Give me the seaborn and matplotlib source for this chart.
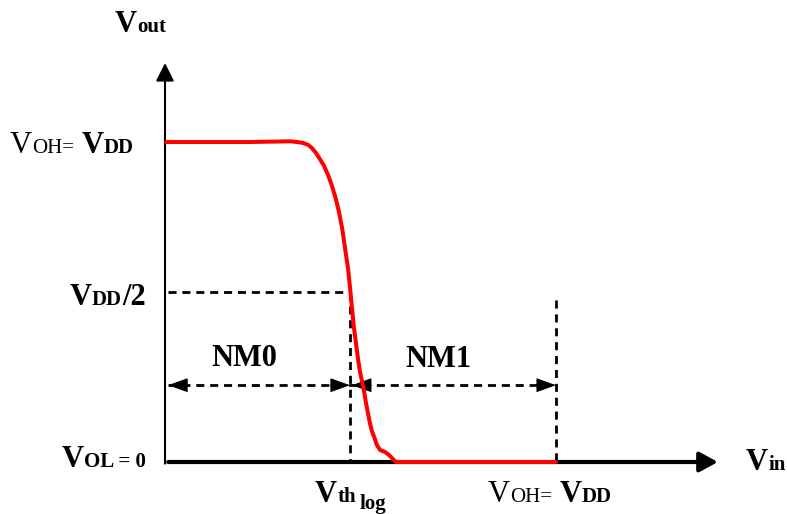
import matplotlib
matplotlib.use("Agg")
import matplotlib.pyplot as plt
import matplotlib.transforms as mtransforms
import seaborn as sns

# inverter transfer curve, both axes in units of VDD
vin = [0.003, 0.217, 0.294, 0.320, 0.338, 0.353, 0.366, 0.376, 0.386, 0.396,
       0.407, 0.417, 0.427, 0.437, 0.445, 0.453, 0.460, 0.468, 0.473, 0.478,
       0.483, 0.489, 0.494, 0.499, 0.504, 0.509, 0.514, 0.519, 0.524, 0.529,
       0.535, 0.542, 0.550, 0.563, 0.573, 0.583, 0.591, 0.75, 1.0]
vout = [1.0, 1.0, 1.0016, 1.0022, 1.0, 0.997, 0.991, 0.981, 0.966, 0.947,
        0.925, 0.897, 0.863, 0.822, 0.781, 0.731, 0.672, 0.606, 0.547, 0.484,
        0.422, 0.366, 0.319, 0.280, 0.252, 0.222, 0.185, 0.153, 0.122, 0.097,
        0.078, 0.053, 0.0375, 0.031, 0.022, 0.009, 0.0, 0.0, 0.0]

v_half = 0.53         # VDD/2 marker
v_th = 0.473          # logic threshold Vth_log
v_dd = 1.0
nm_level = 0.24       # height of the NM0 / NM1 arrows
vdd_mark_top = 0.505  # top of the dashed VDD marker on the Vin axis
axis_x_end = 1.414
axis_y_end = 1.247

W, H = 787, 514
sns.set_theme(style="white")
plt.rcParams["font.family"] = ["Liberation Serif", "DejaVu Serif"]

fig = plt.figure(figsize=(W / 100, H / 100), dpi=100)
ax = fig.add_axes([0, 0, 1, 1])
# origin of the plot sits at pixel (165, 462), VDD spans 391 px in x and 320 px in y
ax.set_xlim(-165 / 391, (W - 165) / 391)
ax.set_ylim(-(H - 462) / 320, 462 / 320)
ax.set_axis_off()

# axes with arrow heads
ax.annotate("", xy=(0, axis_y_end), xytext=(0, -0.005),
            arrowprops=dict(arrowstyle="-|>,head_length=1.1,head_width=0.55",
                            mutation_scale=10, lw=1.5, color="black",
                            shrinkA=0, shrinkB=0))
ax.annotate("", xy=(axis_x_end, 0), xytext=(0.008, 0),
            arrowprops=dict(arrowstyle="-|>,head_length=1.1,head_width=0.6",
                            mutation_scale=10, lw=3, color="black",
                            shrinkA=0, shrinkB=0))

dash = (0, (2.9, 2.1))
dash_lw = 2.0
ax.plot([0.008, v_th], [v_half, v_half], ls=dash, lw=dash_lw, color="black")
ax.plot([v_th, v_th], [v_half, 0], ls=dash, lw=dash_lw, color="black")
ax.plot([v_dd, v_dd], [vdd_mark_top, 0], ls=dash, lw=dash_lw, color="black")

# noise margin arrows
ax.plot([0.008, v_dd], [nm_level, nm_level], ls=dash, lw=dash_lw, color="black")
head = dict(arrowstyle="-|>,head_length=1.25,head_width=0.45",
            mutation_scale=10, lw=0.8, color="black", shrinkA=0, shrinkB=0)
for tip, tail in [(0.008, 0.06), (v_th, v_th - 0.05),
                  (v_th + 0.005, v_th + 0.055), (v_dd, v_dd - 0.05)]:
    ax.annotate("", xy=(tip, nm_level), xytext=(tail, nm_level), arrowprops=head)

sns.lineplot(x=vin, y=vout, color="red", lw=2.9, ax=ax, zorder=4)

# labels, placed in pixel coordinates (y measured from the top)
pix = mtransforms.Affine2D().scale(1, -1).translate(0, H)
renderer = fig.canvas.get_renderer()
BIG, SMALL = 22, 15


def label(pieces, x, y):
    for text, size, weight, dy in pieces:
        if text is None:
            x += size
            continue
        t = ax.text(x, y + dy, text, fontsize=size, fontweight=weight,
                    transform=pix, ha="left", va="baseline", color="black")
        x += t.get_window_extent(renderer).width


label([("V", BIG, "bold", 0), ("out", SMALL, "bold", 0)], 115, 32)
label([("V", BIG, "normal", 0), ("OH=", SMALL, "normal", 0), (None, 7, None, 0),
       ("V", BIG, "bold", 0), ("DD", SMALL, "bold", 0)], 10, 153)
label([("V", BIG, "bold", 0), ("DD", SMALL, "bold", 0), ("/2", BIG, "bold", 0)], 70, 305)
label([("V", BIG, "bold", 0), ("OL = 0", SMALL, "bold", 0)], 62, 467)
label([("V", BIG, "bold", 0), ("th", SMALL, "bold", 0), (None, 4, None, 0),
       ("log", SMALL, "bold", 7)], 315, 502)
label([("V", BIG, "normal", 0), ("OH=", SMALL, "normal", 0), (None, 7, None, 0),
       ("V", BIG, "bold", 0), ("DD", SMALL, "bold", 0)], 488, 502)
label([("V", BIG, "bold", 0), ("in", SMALL, "bold", 0)], 746, 470)

ax.text(244, 366, "NM0", fontsize=BIG, fontweight="bold", transform=pix,
        ha="center", va="baseline", color="black")
ax.text(438, 367, "NM1", fontsize=BIG, fontweight="bold", transform=pix,
        ha="center", va="baseline", color="black")

fig.savefig("out.png", dpi=100)
plt.close(fig)
